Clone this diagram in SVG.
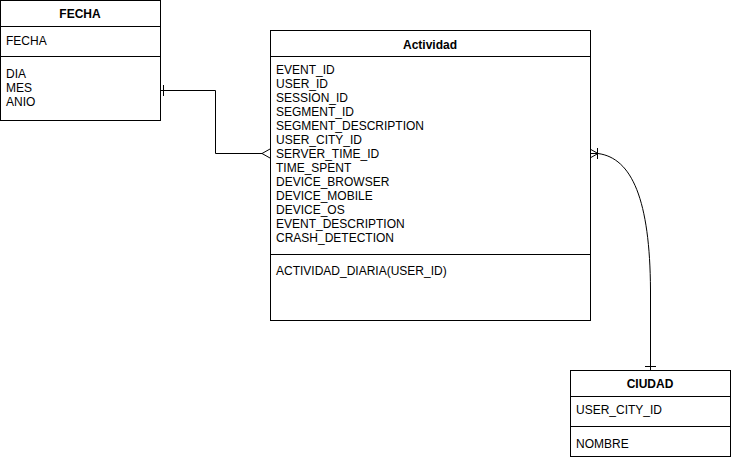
<svg xmlns="http://www.w3.org/2000/svg" width="731" height="460" viewBox="0 0 731 460">
<style>
.box{fill:#fff;stroke:#000;stroke-width:1}
.sep{stroke:#000;stroke-width:1}
.t{font-family:"Liberation Sans",Arial,sans-serif;font-size:12px;fill:#000}
.h{font-family:"Liberation Sans",Arial,sans-serif;font-size:12px;font-weight:bold;fill:#000;text-anchor:middle}
.c{fill:none;stroke:#000;stroke-width:1}
</style>
<rect width="731" height="460" fill="#fff"/>
<g id="connectors">
<path class="c" d="M160.5 90.5 H215.5 V153.5 H262"/>
<path class="c" d="M163.5 85 V96"/>
<path class="c" d="M262 153.5 L270 149 M262 153.5 L270 158"/>
<path class="c" d="M590 153.5 H598 C632 158 650 200 650.5 290 V370"/>
<path class="c" d="M598 153.5 L590 149 M598 153.5 L590 158 M597.5 148 V159"/>
<path class="c" d="M645 366.5 H656"/>
</g>
<g id="FECHA">
<rect class="box" x="0.5" y="0.5" width="160" height="120"/>
<line class="sep" x1="0.5" y1="26.5" x2="160.5" y2="26.5"/>
<line class="sep" x1="0.5" y1="56.5" x2="160.5" y2="56.5"/>
<text class="h" x="80" y="18">FECHA</text>
<text class="t" x="6" y="45">FECHA</text>
<text class="t" x="6" y="78">DIA</text>
<text class="t" x="6" y="92">MES</text>
<text class="t" x="6" y="106">ANIO</text>
</g>
<g id="Actividad">
<rect class="box" x="270.5" y="30.5" width="320" height="290"/>
<line class="sep" x1="270.5" y1="56.5" x2="590.5" y2="56.5"/>
<line class="sep" x1="270.5" y1="254.5" x2="590.5" y2="254.5"/>
<text class="h" x="430" y="49">Actividad</text>
<text class="t" x="276" y="74">EVENT_ID</text>
<text class="t" x="276" y="88">USER_ID</text>
<text class="t" x="276" y="102">SESSION_ID</text>
<text class="t" x="276" y="116">SEGMENT_ID</text>
<text class="t" x="276" y="130">SEGMENT_DESCRIPTION</text>
<text class="t" x="276" y="144">USER_CITY_ID</text>
<text class="t" x="276" y="158">SERVER_TIME_ID</text>
<text class="t" x="276" y="172">TIME_SPENT</text>
<text class="t" x="276" y="186">DEVICE_BROWSER</text>
<text class="t" x="276" y="200">DEVICE_MOBILE</text>
<text class="t" x="276" y="214">DEVICE_OS</text>
<text class="t" x="276" y="228">EVENT_DESCRIPTION</text>
<text class="t" x="276" y="242">CRASH_DETECTION</text>
<text class="t" x="276" y="275">ACTIVIDAD_DIARIA(USER_ID)</text>
</g>
<g id="CIUDAD">
<rect class="box" x="570.5" y="370.5" width="160" height="86"/>
<line class="sep" x1="570.5" y1="396.5" x2="730.5" y2="396.5"/>
<line class="sep" x1="570.5" y1="426.5" x2="730.5" y2="426.5"/>
<text class="h" x="650" y="388">CIUDAD</text>
<text class="t" x="576" y="414">USER_CITY_ID</text>
<text class="t" x="576" y="448">NOMBRE</text>
</g>
</svg>
